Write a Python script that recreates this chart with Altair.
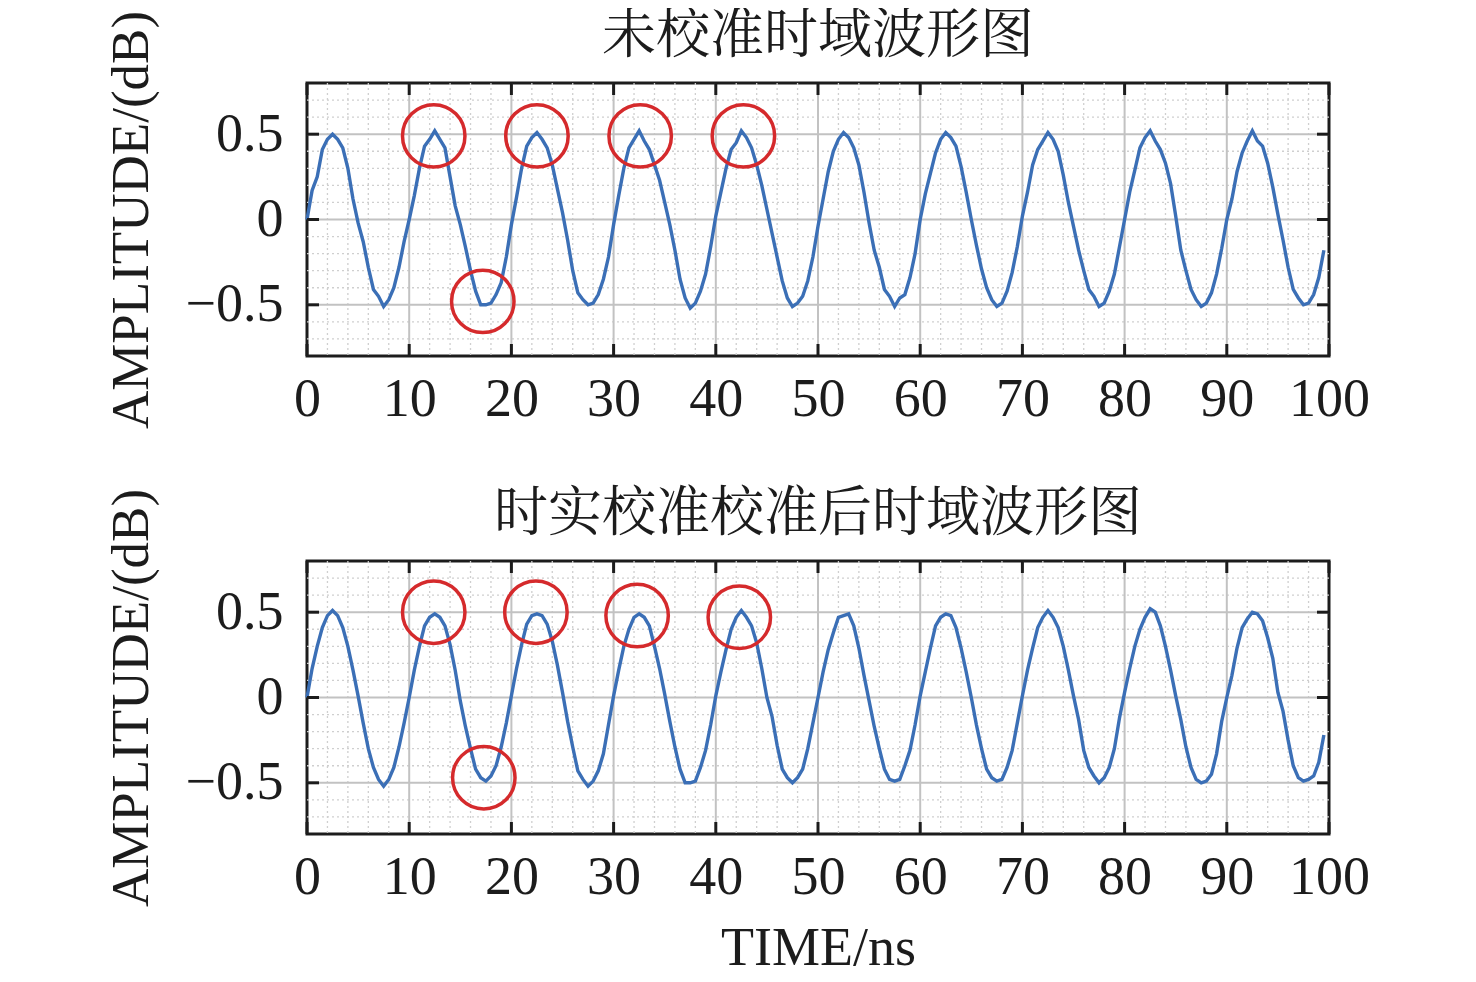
import altair as alt
import pandas as pd

# ---------------- data ----------------
# sample times (ns), 0.5 ns sampling
time_ns = [i * 0.5 for i in range(200)]

# uncalibrated waveform, 20 samples per 10 ns period
amp_raw = [
    0.00, 0.17, 0.25, 0.41, 0.47, 0.50, 0.47, 0.42, 0.30, 0.12, -0.02, -0.13, -0.28, -0.41, -0.45, -0.51, -0.47, -0.40, -0.28, -0.13,
    0.00, 0.14, 0.30, 0.43, 0.47, 0.52, 0.47, 0.42, 0.25, 0.08, -0.03, -0.16, -0.30, -0.42, -0.50, -0.50, -0.49, -0.44, -0.37, -0.22,
    -0.03, 0.13, 0.30, 0.43, 0.48, 0.51, 0.47, 0.42, 0.32, 0.18, 0.04, -0.12, -0.30, -0.43, -0.47, -0.50, -0.49, -0.44, -0.35, -0.22,
    -0.03, 0.14, 0.30, 0.42, 0.47, 0.52, 0.46, 0.41, 0.32, 0.23, 0.10, -0.03, -0.18, -0.35, -0.46, -0.52, -0.49, -0.42, -0.32, -0.16,
    0.02, 0.16, 0.30, 0.41, 0.45, 0.52, 0.48, 0.42, 0.32, 0.20, 0.06, -0.08, -0.22, -0.36, -0.46, -0.51, -0.49, -0.45, -0.36, -0.22,
    -0.04, 0.12, 0.28, 0.40, 0.47, 0.51, 0.48, 0.42, 0.32, 0.16, -0.02, -0.18, -0.28, -0.41, -0.45, -0.51, -0.46, -0.44, -0.34, -0.20,
    0.00, 0.15, 0.27, 0.39, 0.47, 0.51, 0.48, 0.43, 0.31, 0.16, 0.00, -0.15, -0.29, -0.40, -0.47, -0.51, -0.49, -0.42, -0.31, -0.16,
    0.02, 0.16, 0.32, 0.41, 0.46, 0.51, 0.47, 0.40, 0.26, 0.10, -0.04, -0.18, -0.30, -0.41, -0.45, -0.51, -0.49, -0.42, -0.32, -0.16,
    0.00, 0.16, 0.29, 0.42, 0.48, 0.52, 0.46, 0.41, 0.33, 0.21, 0.02, -0.18, -0.30, -0.41, -0.47, -0.51, -0.49, -0.43, -0.32, -0.17,
    0.00, 0.12, 0.28, 0.39, 0.46, 0.52, 0.46, 0.43, 0.33, 0.19, 0.03, -0.12, -0.28, -0.41, -0.46, -0.50, -0.49, -0.44, -0.34, -0.18,
]

# waveform after real-time calibration
amp_cal = [
    0.00, 0.17, 0.30, 0.41, 0.48, 0.51, 0.48, 0.41, 0.30, 0.16, 0.01, -0.15, -0.30, -0.41, -0.48, -0.52, -0.48, -0.41, -0.29, -0.15,
    0.00, 0.16, 0.30, 0.42, 0.47, 0.49, 0.47, 0.42, 0.31, 0.16, -0.02, -0.17, -0.30, -0.42, -0.47, -0.49, -0.46, -0.40, -0.29, -0.15,
    0.01, 0.17, 0.31, 0.43, 0.48, 0.49, 0.48, 0.43, 0.33, 0.19, 0.03, -0.14, -0.29, -0.43, -0.48, -0.52, -0.49, -0.43, -0.33, -0.16,
    0.01, 0.16, 0.30, 0.40, 0.47, 0.49, 0.47, 0.42, 0.30, 0.17, 0.02, -0.14, -0.29, -0.42, -0.50, -0.50, -0.49, -0.41, -0.31, -0.16,
    0.01, 0.15, 0.28, 0.40, 0.47, 0.51, 0.47, 0.42, 0.32, 0.17, 0.00, -0.11, -0.28, -0.42, -0.47, -0.50, -0.47, -0.42, -0.30, -0.15,
    0.00, 0.15, 0.28, 0.38, 0.47, 0.48, 0.49, 0.42, 0.29, 0.13, -0.02, -0.17, -0.30, -0.42, -0.48, -0.49, -0.48, -0.40, -0.31, -0.16,
    0.01, 0.15, 0.29, 0.42, 0.47, 0.49, 0.48, 0.41, 0.29, 0.15, 0.00, -0.16, -0.30, -0.42, -0.47, -0.49, -0.48, -0.41, -0.31, -0.15,
    0.01, 0.16, 0.29, 0.41, 0.47, 0.51, 0.47, 0.41, 0.30, 0.16, 0.01, -0.13, -0.31, -0.41, -0.46, -0.50, -0.47, -0.41, -0.30, -0.12,
    0.03, 0.17, 0.30, 0.40, 0.47, 0.52, 0.50, 0.42, 0.30, 0.16, 0.01, -0.13, -0.29, -0.41, -0.48, -0.50, -0.49, -0.45, -0.33, -0.14,
    0.00, 0.13, 0.29, 0.41, 0.46, 0.50, 0.49, 0.45, 0.35, 0.23, 0.03, -0.08, -0.25, -0.40, -0.47, -0.49, -0.48, -0.46, -0.38, -0.22,
]

# highlighted points (red circles)
circ_raw_x = [12.4, 22.5, 32.6, 42.7, 17.2]
circ_raw_y = [0.49, 0.49, 0.49, 0.49, -0.48]
circ_cal_x = [12.4, 22.4, 32.3, 42.3, 17.3]
circ_cal_y = [0.50, 0.50, 0.48, 0.47, -0.47]

# axis ticks and grid positions
x_ticks = [0, 10, 20, 30, 40, 50, 60, 70, 80, 90, 100]
y_ticks = [-0.5, 0, 0.5]
x_major_grid = [10, 20, 30, 40, 50, 60, 70, 80, 90]
y_major_grid = [-0.5, 0, 0.5]
x_minor_grid = [2, 4, 6, 8, 12, 14, 16, 18, 22, 24, 26, 28, 32, 34, 36, 38, 42, 44, 46, 48,
                52, 54, 56, 58, 62, 64, 66, 68, 72, 74, 76, 78, 82, 84, 86, 88, 92, 94, 96, 98]
y_minor_grid = [-0.7, -0.6, -0.4, -0.3, -0.2, -0.1, 0.1, 0.2, 0.3, 0.4, 0.6, 0.7]

title_top = "未校准时域波形图"
title_bottom = "时实校准校准后时域波形图"
y_title = "AMPLITUDE/(dB)"
x_title = "TIME/ns"

# ---------------- style ----------------
W, H = 1022, 273
SERIF = "Liberation Serif"
CJK = "'Noto Serif CJK SC', 'Noto Sans CJK SC', serif"
TXT = "#1c1c1c"
LINE_C = "#3b6fb6"
RED = "#d52a2c"
TICK = 12

xs = alt.Scale(domain=[0, 100], nice=False, zero=False)
ys = alt.Scale(domain=[-0.8, 0.8], nice=False, zero=False)


def panel(values, title, cx, cy, show_xtitle):
    df = pd.DataFrame({"t": time_ns, "v": values})
    circ = pd.DataFrame({"cx": cx, "cy": cy})

    x_axis = alt.Axis(
        values=x_ticks, format="d", ticks=False, tickSize=0, domain=False, grid=False,
        labelFont=SERIF, labelFontSize=54, labelColor=TXT, labelPadding=16,
        labelFlush=False, labelOverlap=False,
        title=x_title if show_xtitle else None,
        titleFont=SERIF, titleFontSize=54, titleFontWeight="normal", titleColor=TXT,
        titlePadding=17,
    )
    y_axis = alt.Axis(
        values=y_ticks, format=".1~f", ticks=False, tickSize=0, domain=False, grid=False,
        labelFont=SERIF, labelFontSize=54, labelColor=TXT, labelPadding=24,
        labelFlush=False, labelOverlap=False,
        title=y_title, titleFont=SERIF, titleFontSize=53, titleFontWeight="normal",
        titleColor=TXT, titlePadding=27,
    )

    minor_x = alt.Chart(pd.DataFrame({"g": x_minor_grid})).mark_rule(
        color="#cfcfcf", strokeDash=[2, 3], strokeWidth=1.3
    ).encode(x=alt.X("g:Q", scale=xs, axis=x_axis))
    minor_y = alt.Chart(pd.DataFrame({"g": y_minor_grid})).mark_rule(
        color="#cfcfcf", strokeDash=[2, 3], strokeWidth=1.3
    ).encode(y=alt.Y("g:Q", scale=ys, axis=y_axis))
    major_x = alt.Chart(pd.DataFrame({"g": x_major_grid})).mark_rule(
        color="#c2c2c2", strokeWidth=2
    ).encode(x=alt.X("g:Q", scale=xs, axis=x_axis))
    major_y = alt.Chart(pd.DataFrame({"g": y_major_grid})).mark_rule(
        color="#c2c2c2", strokeWidth=2
    ).encode(y=alt.Y("g:Q", scale=ys, axis=y_axis))

    line = alt.Chart(df).mark_line(color=LINE_C, strokeWidth=3.4).encode(
        x=alt.X("t:Q", scale=xs, axis=x_axis),
        y=alt.Y("v:Q", scale=ys, axis=y_axis),
    )
    circles = alt.Chart(circ).mark_point(
        shape="circle", filled=False, size=3900, color=RED, strokeWidth=3.5, opacity=1
    ).encode(
        x=alt.X("cx:Q", scale=xs, axis=x_axis),
        y=alt.Y("cy:Q", scale=ys, axis=y_axis),
    )
    xt = pd.DataFrame({"g": x_ticks})
    yt = pd.DataFrame({"g": y_ticks})
    tick_b = alt.Chart(xt).mark_rule(color="#1c1c1c", strokeWidth=3).encode(
        x=alt.X("g:Q", scale=xs, axis=x_axis), y=alt.value(H), y2=alt.value(H - TICK))
    tick_t = alt.Chart(xt).mark_rule(color="#1c1c1c", strokeWidth=3).encode(
        x=alt.X("g:Q", scale=xs, axis=x_axis), y=alt.value(0), y2=alt.value(TICK))
    tick_l = alt.Chart(yt).mark_rule(color="#1c1c1c", strokeWidth=3).encode(
        y=alt.Y("g:Q", scale=ys, axis=y_axis), x=alt.value(0), x2=alt.value(TICK))
    tick_r = alt.Chart(yt).mark_rule(color="#1c1c1c", strokeWidth=3).encode(
        y=alt.Y("g:Q", scale=ys, axis=y_axis), x=alt.value(W), x2=alt.value(W - TICK))

    ttl = alt.Chart(pd.DataFrame({"title": [title]})).mark_text(
        font=CJK, fontSize=54, baseline="alphabetic", align="center", color=TXT
    ).encode(text="title:N", x=alt.value(W / 2), y=alt.value(-30))

    return alt.layer(
        minor_x, minor_y, major_x, major_y, line, circles,
        tick_b, tick_t, tick_l, tick_r, ttl
    ).properties(width=W, height=H)


top = panel(amp_raw, title_top, circ_raw_x, circ_raw_y, False)
bottom = panel(amp_cal, title_bottom, circ_cal_x, circ_cal_y, True)

chart = alt.vconcat(top, bottom, spacing=205, bounds="flush").properties(
    padding={"left": 95, "top": 0, "right": 5, "bottom": 0},
    background="white",
).configure_view(stroke="#1c1c1c", strokeWidth=3)

chart.save("out.html", embed_options={"renderer": "svg", "actions": False})
